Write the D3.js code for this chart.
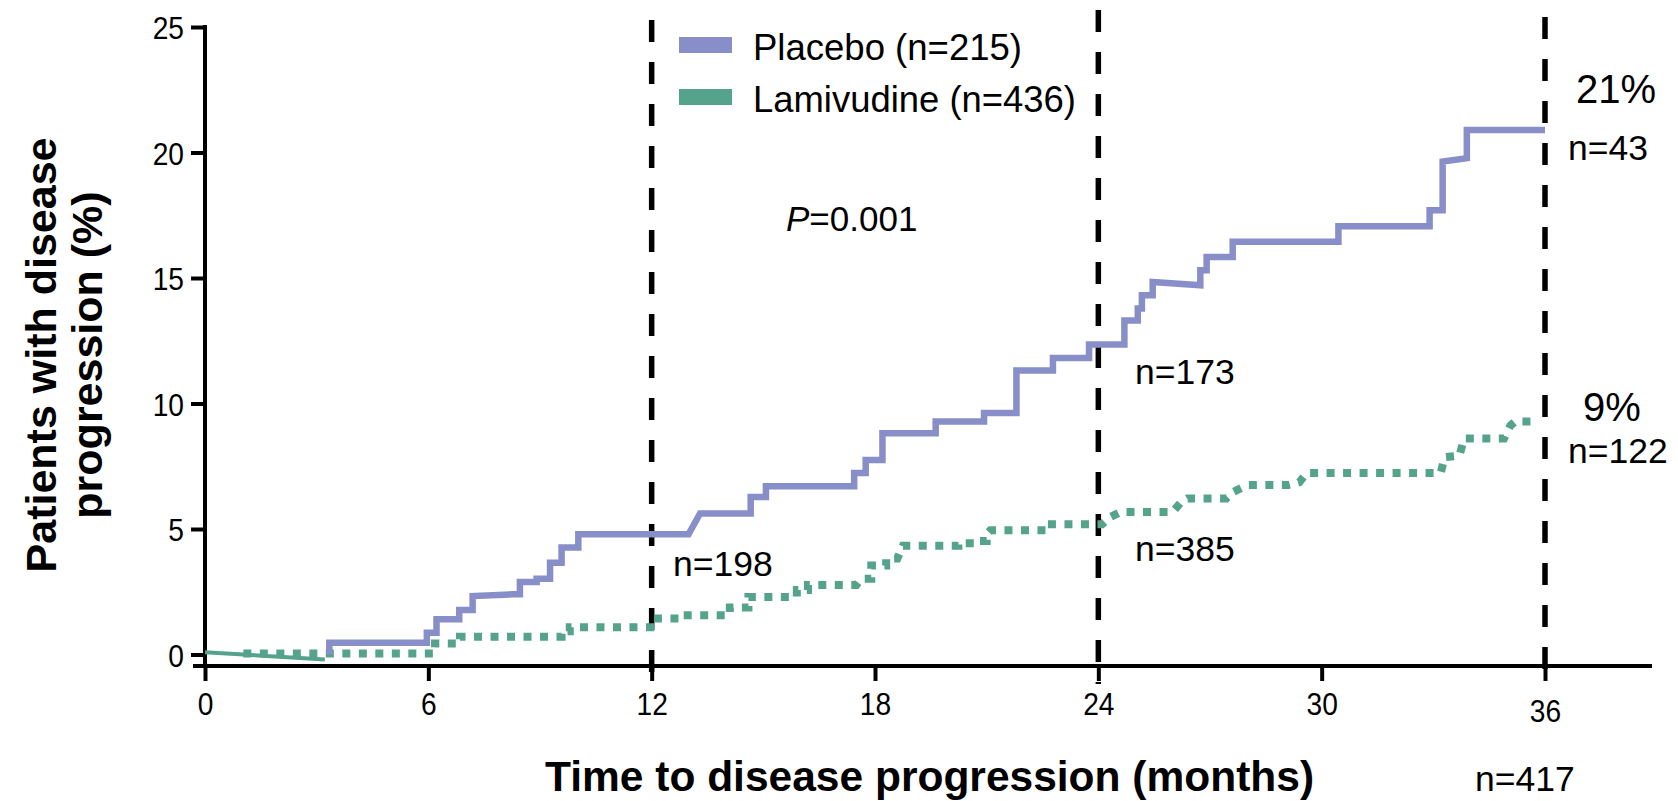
<!DOCTYPE html>
<html>
<head>
<meta charset="utf-8">
<script src="https://cdn.jsdelivr.net/npm/d3@7"></script>
<style>
  html, body { margin: 0; padding: 0; background: #fff; }
  svg { display: block; }
  text { font-family: Arial, "Liberation Sans", Helvetica, sans-serif; fill: #000; }
</style>
</head>
<body>
<svg id="chart" width="1678" height="801"></svg>
<script>
// ---------------- DATA ----------------
const xTicks = [0, 6, 12, 18, 24, 30, 36];
const yTicks = [0, 5, 10, 15, 20, 25];
const refMonths = [12, 24, 36];

const seriesNames = ["Placebo (n=215)", "Lamivudine (n=436)"];

// Placebo Kaplan-Meier curve vertices (months, % progressed)
const placeboMonths = [3.34, 3.34, 5.96, 5.96, 6.22, 6.22, 6.83, 6.83, 7.19, 7.19, 8.27, 8.46, 8.46, 8.91, 8.91, 9.27, 9.27, 9.58, 9.58, 10.03, 10.03, 12.99, 13.3, 14.66, 14.66, 15.07, 15.07, 17.44, 17.44, 17.75, 17.75, 18.2, 18.2, 19.63, 19.63, 20.93, 20.93, 21.8, 21.8, 22.78, 22.78, 23.75, 23.75, 24.7, 24.7, 25.06, 25.06, 25.17, 25.17, 25.46, 25.46, 26.74, 26.74, 26.91, 26.91, 27.61, 27.61, 30.45, 30.45, 32.9, 32.9, 33.25, 33.25, 33.9, 33.9, 36.0];
const placeboPct    = [0.0, 0.47, 0.47, 0.87, 0.87, 1.40, 1.40, 1.77, 1.77, 2.33, 2.40, 2.40, 2.89, 2.89, 3.02, 3.02, 3.66, 3.66, 4.26, 4.26, 4.79, 4.79, 5.62, 5.62, 6.27, 6.27, 6.70, 6.70, 7.23, 7.23, 7.75, 7.75, 8.81, 8.81, 9.28, 9.28, 9.62, 9.62, 11.31, 11.31, 11.81, 11.81, 12.35, 12.35, 13.31, 13.31, 13.78, 13.78, 14.31, 14.31, 14.84, 14.71, 15.31, 15.31, 15.84, 15.84, 16.44, 16.44, 17.06, 17.06, 17.70, 17.70, 19.64, 19.77, 20.9, 20.9];

// Lamivudine curve vertices (months, % progressed)
const lamMonths = [1.03, 6.18, 6.18, 6.85, 6.85, 9.58, 9.58, 9.8, 9.8, 11.96, 11.96, 12.85, 12.85, 14.1, 14.1, 14.6, 14.6, 15.9, 15.9, 16.2, 16.2, 17.5, 17.63, 17.9, 17.9, 18.3, 18.3, 18.6, 18.75, 20.24, 20.24, 20.7, 20.7, 21.0, 21.0, 21.1, 22.6, 22.6, 24.1, 24.3, 24.6, 26.0, 26.2, 26.4, 27.44, 27.6, 28.0, 29.1, 29.4, 29.6, 33.2, 33.3, 33.7, 33.83, 34.9, 35.07, 35.2, 35.8];
const lamPct    = [0.04, 0.04, 0.44, 0.44, 0.71, 0.71, 0.93, 0.93, 1.09, 1.09, 1.43, 1.43, 1.56, 1.56, 1.87, 1.87, 2.29, 2.29, 2.57, 2.57, 2.77, 2.77, 3.02, 3.02, 3.55, 3.55, 3.82, 3.82, 4.33, 4.33, 4.43, 4.43, 4.52, 4.52, 4.79, 4.95, 4.95, 5.19, 5.19, 5.46, 5.68, 5.68, 6.03, 6.22, 6.22, 6.46, 6.75, 6.75, 6.86, 7.23, 7.23, 7.86, 7.92, 8.61, 8.61, 9.12, 9.28, 9.28];

// Short solid initial Lamivudine segment
const lamStartMonths = [0, 3.22];
const lamStartPct = [0.09, -0.2];

const endPct = ["21%", "9%"];
const atRisk = { placebo: ["n=198", "n=173", "n=43"], lam: ["n=417", "n=385", "n=122"] };
const pText = "=0.001";

// ---------------- CHART ----------------
const colors = { placebo: "#878ec8", lam: "#55a38b" };
const svg = d3.select("#chart");

const x = d3.scaleLinear().domain([0, 36]).range([205, 1545]);
const y = d3.scaleLinear().domain([0, 25]).range([654.5, 27]);
const axisY = 666;

function condense(sel, k) {
  sel.each(function () {
    const w = this.getComputedTextLength();
    d3.select(this).attr("textLength", w * k).attr("lengthAdjust", "spacingAndGlyphs");
  });
}

// Y axis
const yAxis = d3.axisLeft(y).tickValues(yTicks).tickSize(14).tickPadding(7);
const gy = svg.append("g").attr("transform", `translate(${x(0)},0)`).call(yAxis);
gy.select(".domain").remove();
gy.selectAll(".tick line").attr("stroke", "#000").attr("stroke-width", 4);
gy.selectAll(".tick text").attr("font-size", 32).attr("font-family", "Arial, 'Liberation Sans', sans-serif")
  .attr("dy", "0.36em");
condense(gy.selectAll(".tick text"), 0.88);
svg.append("line").attr("x1", x(0)).attr("x2", x(0)).attr("y1", y(25) - 2).attr("y2", axisY + 2)
  .attr("stroke", "#000").attr("stroke-width", 4);

// X axis
const xAxis = d3.axisBottom(x).tickValues(xTicks).tickSize(15).tickPadding(11);
const gx = svg.append("g").attr("transform", `translate(0,${axisY})`).call(xAxis);
gx.select(".domain").remove();
gx.selectAll(".tick line").attr("stroke", "#000").attr("stroke-width", 4);
gx.selectAll(".tick text").attr("font-size", 32).attr("font-family", "Arial, 'Liberation Sans', sans-serif")
  .attr("dy", d => d === 36 ? "0.93em" : "0.71em");
condense(gx.selectAll(".tick text"), 0.88);
svg.append("line").attr("x1", 193).attr("x2", 1652).attr("y1", axisY).attr("y2", axisY)
  .attr("stroke", "#000").attr("stroke-width", 4);

// Reference dashed lines
const refTop = { 12: 20, 24: 10, 36: 17 };
svg.selectAll(".ref").data(refMonths).enter().append("line")
  .attr("x1", d => x(d)).attr("x2", d => x(d))
  .attr("y1", d => refTop[d]).attr("y2", 684)
  .attr("stroke", "#000").attr("stroke-width", 5.5).attr("stroke-dasharray", "22,20");

// Curves
const line = d3.line().x(d => x(d[0])).y(d => y(d[1]));
const placeboPts = placeboMonths.map((m, i) => [m, placeboPct[i]]);
const lamPts = lamMonths.map((m, i) => [m, lamPct[i]]);
const lamStartPts = lamStartMonths.map((m, i) => [m, lamStartPct[i]]);

svg.append("path").attr("d", line(lamStartPts)).attr("fill", "none")
  .attr("stroke", colors.lam).attr("stroke-width", 4);
svg.append("path").attr("d", line(lamPts)).attr("fill", "none")
  .attr("stroke", colors.lam).attr("stroke-width", 8).attr("stroke-dasharray", "8,8.5");
svg.append("path").attr("d", line(placeboPts)).attr("fill", "none")
  .attr("stroke", colors.placebo).attr("stroke-width", 6.5).attr("stroke-linejoin", "miter");

// Legend
const legendColors = [colors.placebo, colors.lam];
const legendY = [45, 97];
const legendW = [269, 323];
seriesNames.forEach((name, i) => {
  svg.append("rect").attr("x", 679).attr("y", legendY[i] - 8).attr("width", 53).attr("height", 16)
    .attr("fill", legendColors[i]);
  svg.append("text").attr("x", 753).attr("y", legendY[i] + 15).attr("font-size", 37)
    .attr("textLength", legendW[i]).attr("lengthAdjust", "spacingAndGlyphs").text(name);
});

// P value
const pt = svg.append("text").attr("x", 786).attr("y", 231).attr("font-size", 35);
pt.append("tspan").attr("font-style", "italic").text("P");
pt.append("tspan").text(pText);

// End percentages
svg.append("text").attr("x", 1576).attr("y", 103).attr("font-size", 40).text(endPct[0]);
svg.append("text").attr("x", 1583).attr("y", 421).attr("font-size", 40).text(endPct[1]);

// At-risk numbers
svg.append("text").attr("x", 673).attr("y", 576).attr("font-size", 35.5).text(atRisk.placebo[0]);
svg.append("text").attr("x", 1135).attr("y", 384).attr("font-size", 35.5).text(atRisk.placebo[1]);
svg.append("text").attr("x", 1568).attr("y", 160).attr("font-size", 35.5).text(atRisk.placebo[2]);
svg.append("text").attr("x", 1475).attr("y", 791).attr("font-size", 35.5).text(atRisk.lam[0]);
svg.append("text").attr("x", 1135).attr("y", 561).attr("font-size", 35.5).text(atRisk.lam[1]);
svg.append("text").attr("x", 1568).attr("y", 463).attr("font-size", 35.5).text(atRisk.lam[2]);

// Axis titles
svg.append("text").attr("x", 545).attr("y", 791).attr("font-size", 42.5).attr("font-weight", "bold")
  .text("Time to disease progression (months)");
const yt = svg.append("g").attr("transform", "translate(0,355) rotate(-90)");
yt.append("text").attr("x", 0).attr("y", 56).attr("text-anchor", "middle").attr("font-size", 43)
  .attr("font-weight", "bold").text("Patients with disease");
yt.append("text").attr("x", 0).attr("y", 102).attr("text-anchor", "middle").attr("font-size", 43)
  .attr("font-weight", "bold").text("progression (%)");
</script>
</body>
</html>
